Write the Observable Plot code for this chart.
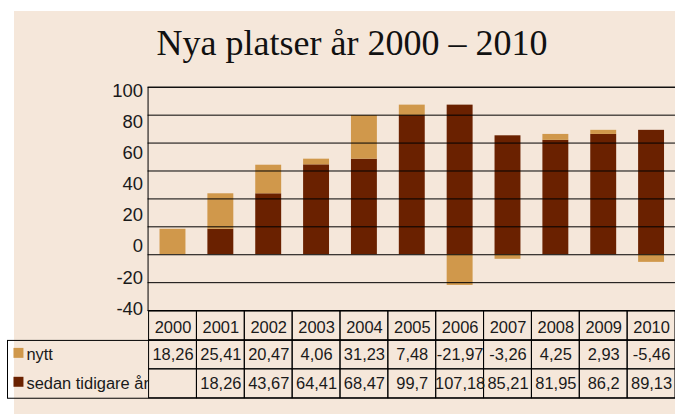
<!DOCTYPE html>
<html><head><meta charset="utf-8">
<script src="https://cdn.jsdelivr.net/npm/d3@7"></script>
<script src="https://cdn.jsdelivr.net/npm/@observablehq/plot@0.6"></script>
<style>
html,body{margin:0;padding:0;width:675px;height:414px;overflow:hidden;background:#fff;}
#bg{position:absolute;left:14px;top:11px;right:0;bottom:0;background:#f5e7da;}
#title{position:absolute;left:52px;width:600px;top:25px;text-align:center;font:36px/36px "Liberation Serif","Times New Roman",serif;color:#111;white-space:nowrap;}
#chart,#table{position:absolute;left:0;}
#chart{top:0;}
#table{top:311px;}
svg{overflow:visible;}
</style></head><body>
<div id="bg"></div>
<div id="title">Nya platser år 2000 – 2010</div>
<div id="chart"></div>
<div id="table"></div>
<script>
const years = ["2000","2001","2002","2003","2004","2005","2006","2007","2008","2009","2010"];
const nytt = [18.26, 25.41, 20.47, 4.06, 31.23, 7.48, -21.97, -3.26, 4.25, 2.93, -5.46];
const sedan = [null, 18.26, 43.67, 64.41, 68.47, 99.7, 107.18, 85.21, 81.95, 86.2, 89.13];
const seriesNames = ["sedan tidigare år", "nytt"];
const seriesColors = ["#6a2100", "#d0984b"];
const rowLabels = ["nytt", "sedan tidigare år"];
const yTickLabels = [100, 80, 60, 40, 20, 0, -20, -40];
const gridValues = [-40, -20, 0, 20, 40, 60, 80, 100, 120];

// the reference spreads its axis labels evenly over the frame
const yTickPos = yTickLabels.map((_, i) => 117.4 - i * 22.3);

const bars = years.flatMap((yr, i) => [
  {year: yr, series: "sedan tidigare år", value: sedan[i] ?? 0},
  {year: yr, series: "nytt", value: nytt[i]}
]);

const fmt = v => v == null ? "" : String(v).replace(".", ",");
const font = "'Liberation Sans', Arial, sans-serif";
const ink = "#1a1a1a";

const chart = Plot.plot({
  width: 677, height: 312,
  marginLeft: 148, marginRight: 0, marginTop: 87, marginBottom: 1,
  style: {background: "transparent", fontFamily: font, fontSize: "18.5px", color: ink, overflow: "visible"},
  x: {domain: years, paddingInner: 0.46, paddingOuter: 0.23, axis: null},
  y: {domain: [-40, 120], ticks: yTickPos, tickFormat: d => yTickLabels[yTickPos.indexOf(d)], tickSize: 0, tickPadding: 5, label: null},
  color: {domain: seriesNames, range: seriesColors},
  marks: [
    Plot.barY(bars, {x: "year", y: "value", fill: "series"}),
    Plot.ruleY(gridValues, {stroke: "#000", strokeWidth: 1}),
    Plot.frame({stroke: "#000"})
  ]
});
document.getElementById("chart").appendChild(chart);

const cells = [];
years.forEach(yr => ["hdr", ...rowLabels].forEach(r => cells.push({year: yr, row: r})));
const nyttRow = years.map((yr, i) => ({year: yr, v: nytt[i]}));
const sedanRow = years.map((yr, i) => ({year: yr, v: sedan[i]})).filter(d => d.v != null);

const table = Plot.plot({
  width: 677, height: 88,
  marginLeft: 7, marginRight: 0, marginTop: 0, marginBottom: 1,
  style: {background: "transparent", fontFamily: font, fontSize: "16px", color: ink, overflow: "visible"},
  x: {domain: years, range: [148, 677], padding: 0, axis: null},
  y: {domain: ["hdr", ...rowLabels], padding: 0, axis: null},
  color: {domain: seriesNames, range: seriesColors},
  marks: [
    Plot.cell(cells, {x: "year", y: "row", stroke: "#000", fill: "none", inset: 0}),
    Plot.frame({insetTop: 29, stroke: "#000"}),
    Plot.dot(rowLabels, {y: d => d, frameAnchor: "left", dx: 11, dy: -2, symbol: "square", r: 5.64, fill: d => d, stroke: null}),
    Plot.text(rowLabels, {y: d => d, text: d => d, frameAnchor: "left", dx: 19, textAnchor: "start", fill: ink, fontSize: 16.5}),
    Plot.text(years, {x: d => d, y: () => "hdr", text: d => d, dy: 2, fill: ink, fontSize: 16.5}),
    Plot.text(nyttRow, {x: "year", y: () => "nytt", text: d => fmt(d.v), fill: ink, fontSize: 16.5}),
    Plot.text(sedanRow, {x: "year", y: () => "sedan tidigare år", text: d => fmt(d.v), fill: ink, fontSize: 16.5})
  ]
});
document.getElementById("table").appendChild(table);
</script>
</body></html>
